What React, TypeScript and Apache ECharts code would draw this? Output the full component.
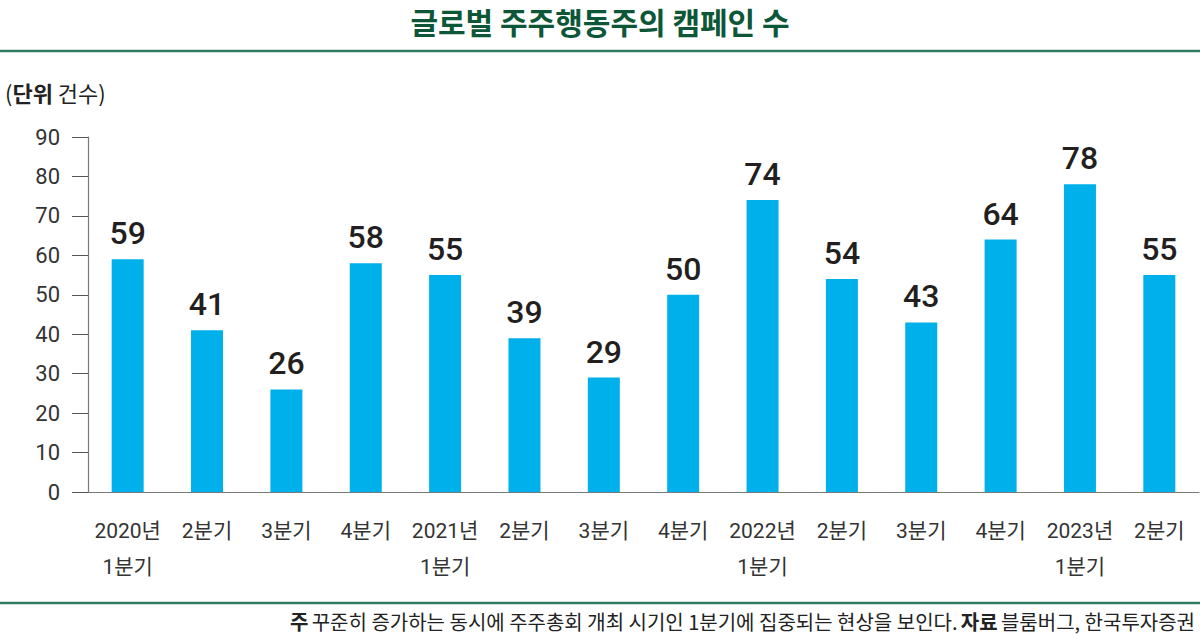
import React, { useEffect, useRef } from "react";
import * as echarts from "echarts";

const categories = [
  "2020년\n1분기", "2분기", "3분기", "4분기",
  "2021년\n1분기", "2분기", "3분기", "4분기",
  "2022년\n1분기", "2분기", "3분기", "4분기",
  "2023년\n1분기", "2분기",
];
const campaigns = [59, 41, 26, 58, 55, 39, 29, 50, 74, 54, 43, 64, 78, 55];
const yTicks = { min: 0, max: 90, interval: 10 };

const titleText = "글로벌 주주행동주의 캠페인 수";
const noteText = "꾸준히 증가하는 동시에 주주총회 개최 시기인 1분기에 집중되는 현상을 보인다.";
const sourceText = "블룸버그, 한국투자증권";

const KR = "'Noto Sans CJK KR', 'Noto Sans', sans-serif";
const NUM = "Roboto, 'Noto Sans CJK KR', sans-serif";
const AX = "Roboto, 'Noto Sans CJK KR', sans-serif";

export default function App() {
  const ref = useRef<HTMLDivElement>(null);
  useEffect(() => {
    document.body.style.margin = "0";
    const chart = echarts.init(ref.current!, null, { renderer: "svg" });
    chart.setOption({
      animation: false,
      backgroundColor: "#ffffff",
      grid: { left: 88, right: 1, top: 137, bottom: 143, containLabel: false },
      xAxis: {
        type: "category",
        data: categories,
        axisLine: { lineStyle: { color: "#7a7a7a", width: 1.2 } },
        axisTick: { inside: true, length: 16, lineStyle: { color: "#555", width: 1 } },
        axisLabel: {
          interval: 0,
          fontSize: 21,
          lineHeight: 36,
          color: "#333",
          fontFamily: AX,
          margin: 21,
        },
      },
      yAxis: {
        type: "value",
        min: yTicks.min,
        max: yTicks.max,
        interval: yTicks.interval,
        axisLine: { show: true, lineStyle: { color: "#7a7a7a", width: 1.2 } },
        axisTick: { show: true, length: 16, lineStyle: { color: "#555", width: 1 } },
        splitLine: { show: false },
        axisLabel: { fontSize: 22, color: "#333", fontFamily: AX, margin: 28 },
      },
      series: [
        {
          type: "bar",
          data: campaigns,
          barWidth: 32,
          itemStyle: { color: "#00b0ea" },
          label: {
            show: true,
            position: "top",
            distance: 10,
            fontSize: 32,
            fontWeight: 500,
            color: "#231f20",
            fontFamily: NUM,
          },
        },
      ],
      graphic: [
        {
          type: "text",
          x: 600,
          y: 21,
          style: {
            text: titleText,
            textAlign: "center",
            textVerticalAlign: "middle",
            font: `bold 30px ${KR}`,
            fill: "#0d5738",
          },
        },
        {
          type: "line",
          shape: { x1: 0, y1: 51, x2: 1200, y2: 51 },
          style: { stroke: "#2f7a62", lineWidth: 2.5 },
        },
        {
          type: "text",
          x: 5,
          y: 92,
          style: {
            text: "{n|(}{b|단위}{n| 건수)}",
            textVerticalAlign: "middle",
            rich: {
              n: { fontSize: 22, fontFamily: KR, fill: "#222", fontWeight: "normal" },
              b: { fontSize: 22, fontFamily: KR, fill: "#222", fontWeight: "bold" },
            },
          },
        },
        {
          type: "line",
          shape: { x1: 0, y1: 603, x2: 1200, y2: 603 },
          style: { stroke: "#2f7a62", lineWidth: 2.5 },
        },
        {
          type: "text",
          x: 1195,
          y: 621,
          style: {
            text: `{b|주} {n|${noteText}} {b|자료} {n|${sourceText}}`,
            textAlign: "right",
            textVerticalAlign: "middle",
            rich: {
              n: { fontSize: 20, fontFamily: KR, fill: "#222", fontWeight: "normal" },
              b: { fontSize: 20, fontFamily: KR, fill: "#222", fontWeight: "bold" },
            },
          },
        },
      ],
    });
    return () => chart.dispose();
  }, []);
  return <div ref={ref} style={{ width: 1200, height: 635 }} />;
}
